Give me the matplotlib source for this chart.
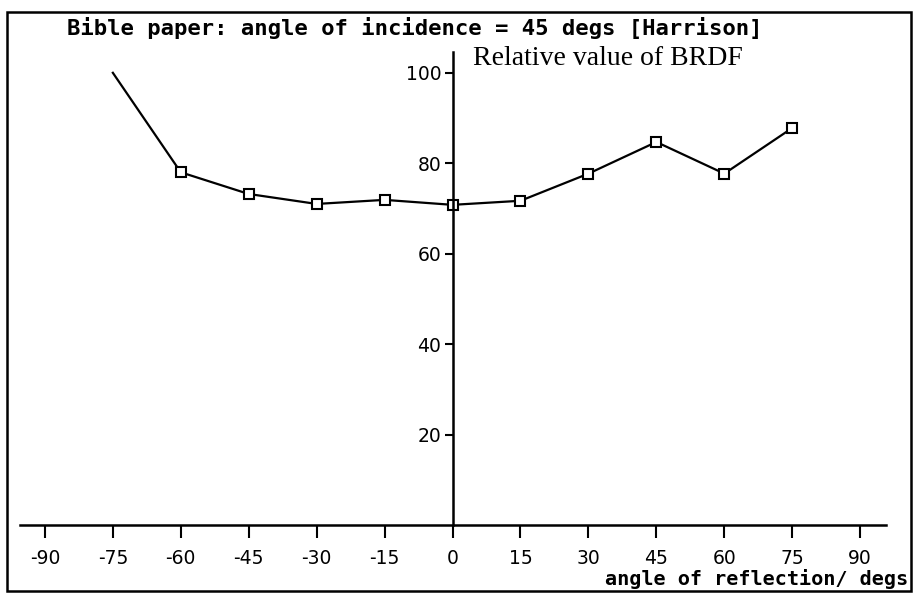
import matplotlib
matplotlib.use("Agg")
import matplotlib.pyplot as plt
from matplotlib.patches import Rectangle

angles = [-75, -60, -45, -30, -15, 0, 15, 30, 45, 60, 75]
brdf = [100, 78, 73.2, 71, 71.9, 70.8, 71.7, 77.7, 84.7, 77.7, 87.8]
xticks = [-90, -75, -60, -45, -30, -15, 0, 15, 30, 45, 60, 75, 90]
yticks = [20, 40, 60, 80, 100]

W, H = 914, 593
fig = plt.figure(figsize=(W / 100, H / 100), dpi=100)

# axes in pixel coordinates
x0, x1 = 20, 886
ytop, ybot = 52, 525
ax = fig.add_axes([x0 / W, 1 - ybot / H, (x1 - x0) / W, (ybot - ytop) / H])
ax.set_xlim(-95.5, 95.7)
ax.set_ylim(0, 104.6)

ax.plot(angles, brdf, color="black", lw=1.6, marker="s", markersize=6.5,
        markerfacecolor="white", markeredgecolor="black", markeredgewidth=1.5,
        markevery=list(range(1, len(angles))))

for s in ["top", "right"]:
    ax.spines[s].set_visible(False)
ax.spines["left"].set_position(("data", 0))
ax.spines["bottom"].set_position(("data", 0))
ax.spines["left"].set_linewidth(1.8)
ax.spines["bottom"].set_linewidth(1.8)

ax.set_xticks(xticks)
ax.set_xticklabels([str(t) for t in xticks])
ax.set_yticks(yticks)
ax.set_yticklabels([str(t) for t in yticks])
ax.tick_params(axis="x", direction="out", length=9, width=1.5, pad=8, labelsize=13.5)
ax.tick_params(axis="y", direction="out", length=6, width=1.5, pad=2, labelsize=13.5)
for lab in ax.get_xticklabels() + ax.get_yticklabels():
    lab.set_family("DejaVu Sans")

fig.text(415 / W, 1 - 35 / H, "Bible paper: angle of incidence = 45 degs [Harrison]",
         family="DejaVu Sans Mono", fontsize=16, fontweight="semibold",
         ha="center", va="baseline")
fig.text(473 / W, 1 - 65 / H, "Relative value of BRDF",
         family="Liberation Serif", fontsize=20, ha="left", va="baseline")
fig.text(908 / W, 1 - 585 / H, "angle of reflection/ degs",
         family="DejaVu Sans Mono", fontsize=14.5, fontweight="semibold",
         ha="right", va="baseline")

fig.patches.append(Rectangle((7 / W, 1 - 591 / H), 904 / W, 579 / H,
                             transform=fig.transFigure, fill=False,
                             edgecolor="black", lw=1.8))

fig.savefig("out.png", dpi=100)
